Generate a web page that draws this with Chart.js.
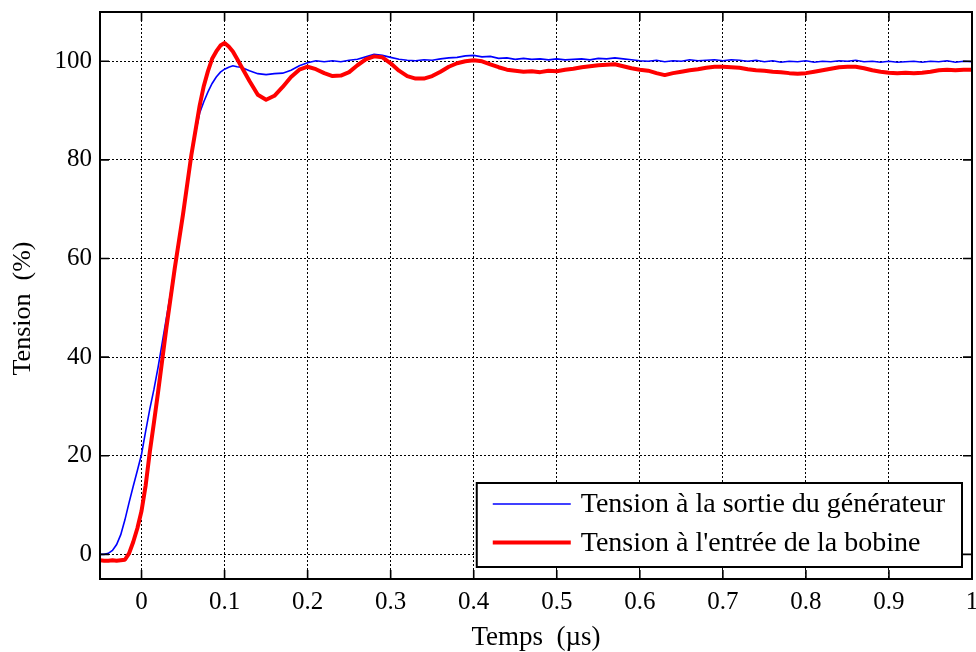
<!DOCTYPE html>
<html>
<head>
<meta charset="utf-8">
<title>Tension</title>
<script src="https://cdn.jsdelivr.net/npm/chart.js@4.4.1/dist/chart.umd.min.js"></script>
<style>
  html, body { margin: 0; padding: 0; background: #fff; }
  canvas { display: block; }
</style>
</head>
<body>
<canvas id="tensionChart" width="976" height="652"></canvas>
<script>
// Sample times (µs)
const times = [
  -0.05, -0.045, -0.04, -0.035, -0.03, -0.025, -0.02, -0.015, -0.01, -0.005,
  0, 0.005, 0.01, 0.015, 0.02, 0.025, 0.03, 0.035, 0.04, 0.045,
  0.05, 0.055, 0.06, 0.065, 0.07, 0.075, 0.08, 0.085, 0.09, 0.095,
  0.1, 0.105, 0.11, 0.115, 0.12, 0.13, 0.14, 0.15, 0.16, 0.17,
  0.18, 0.19, 0.2, 0.21, 0.22, 0.23, 0.24, 0.25, 0.26, 0.27,
  0.28, 0.29, 0.3, 0.31, 0.32, 0.33, 0.34, 0.35, 0.36, 0.37,
  0.38, 0.39, 0.4, 0.41, 0.42, 0.43, 0.44, 0.45, 0.46, 0.47,
  0.48, 0.49, 0.5, 0.51, 0.52, 0.53, 0.54, 0.55, 0.56, 0.57,
  0.58, 0.59, 0.6, 0.61, 0.62, 0.63, 0.64, 0.65, 0.66, 0.67,
  0.68, 0.69, 0.7, 0.71, 0.72, 0.73, 0.74, 0.75, 0.76, 0.77,
  0.78, 0.79, 0.8, 0.81, 0.82, 0.83, 0.84, 0.85, 0.86, 0.87,
  0.88, 0.89, 0.9, 0.91, 0.92, 0.93, 0.94, 0.95, 0.96, 0.97,
  0.98, 0.99, 1.0
];

// Generator output voltage (%)
const generatorVoltage = [
  0.0, 0.0, 0.2, 0.8, 2.0, 4.0, 7.0, 10.5, 13.8, 17.0,
  20.3, 25.0, 29.5, 33.5, 38.0, 43.0, 48.0, 53.0, 58.5, 64.0,
  69.5, 75.0, 80.5, 85.5, 89.5, 91.8, 93.8, 95.5, 96.8, 97.8,
  98.4, 98.8, 99.1, 98.9, 98.8, 98.1, 97.5, 97.3, 97.5, 97.6,
  98.2, 99.1, 99.7, 100.1, 99.9, 100.1, 99.9, 100.2, 100.4, 100.9,
  101.4, 101.2, 100.8, 100.4, 100.2, 100.1, 100.3, 100.2, 100.5, 100.7,
  100.8, 101.1, 101.2, 100.9, 101.0, 100.6, 100.7, 100.4, 100.6, 100.4,
  100.5, 100.3, 100.5, 100.3, 100.4, 100.5, 100.3, 100.6, 100.5, 100.7,
  100.5, 100.3, 100.1, 100.0, 100.2, 99.9, 100.1, 100.0, 100.3, 100.1,
  100.2, 100.3, 100.1, 100.3, 100.2, 100.0, 100.2, 99.9, 100.1, 99.8,
  100.0, 99.9, 100.1, 99.8, 100.0, 99.9, 100.1, 100.0, 100.2, 99.9,
  100.0, 99.8, 100.0, 99.8, 99.9, 100.0, 99.8, 100.0, 99.9, 100.1,
  99.8, 100.0, 99.9
];

// Coil input voltage (%)
const coilVoltage = [
  -1.2, -1.3, -1.3, -1.2, -1.3, -1.2, -1.1, 0.2, 2.5, 5.3,
  8.8, 14.0, 20.8, 26.8, 33.0, 39.5, 46.0, 52.0, 58.0, 63.5,
  69.0, 75.0, 81.0, 86.0, 91.0, 95.0, 98.0, 100.5, 102.0, 103.2,
  103.7, 103.0, 102.0, 100.5, 99.0, 96.0, 93.2, 92.2, 93.0, 94.8,
  96.8, 98.3, 98.9, 98.4, 97.6, 97.0, 97.1, 97.8, 99.2, 100.4,
  101.0, 100.8, 99.6, 98.1, 97.0, 96.5, 96.5, 97.0, 97.9, 98.9,
  99.6, 100.0, 100.2, 100.0, 99.4, 98.8, 98.3, 98.1, 97.9, 98.0,
  97.8, 98.1, 98.0, 98.3, 98.5, 98.8, 99.0, 99.2, 99.3, 99.4,
  99.0, 98.6, 98.3, 98.1, 97.6, 97.2, 97.6, 97.9, 98.2, 98.4,
  98.7, 98.9, 98.9, 98.8, 98.7, 98.4, 98.2, 98.1, 97.9, 97.8,
  97.6, 97.5, 97.6, 97.9, 98.2, 98.5, 98.8, 98.9, 98.9, 98.6,
  98.2, 97.9, 97.7, 97.6, 97.7, 97.6, 97.7, 97.9, 98.2, 98.3,
  98.2, 98.3, 98.3
];

const seriesLabels = ['Tension à la sortie du générateur', "Tension à l'entrée de la bobine"];
const seriesColors = ['#0000ff', '#ff0000'];

const xTickValues = [0, 0.1, 0.2, 0.3, 0.4, 0.5, 0.6, 0.7, 0.8, 0.9, 1];
const xTickLabels = ['0', '0.1', '0.2', '0.3', '0.4', '0.5', '0.6', '0.7', '0.8', '0.9', '1'];
const yTickValues = [0, 20, 40, 60, 80, 100];
const yTickLabels = ['0', '20', '40', '60', '80', '100'];

const FONT_FAMILY = "'Liberation Serif', 'Times New Roman', serif";
const TICK_FONT_SIZE = 25;
const TITLE_FONT_SIZE = 27;
const LEGEND_FONT_SIZE = 28;

// Solid frame around the plot plus inward tick marks on all four sides
const framePlugin = {
    id: 'frame',
    afterDatasetsDraw: function(chart) {
        const ctx = chart.ctx;
        const area = chart.chartArea;
        const xScale = chart.scales.x;
        const yScale = chart.scales.y;
        const tickLen = 9;

        ctx.save();
        ctx.strokeStyle = '#000';
        ctx.lineWidth = 1.6;
        ctx.beginPath();
        xTickValues.forEach(v => {
            const px = xScale.getPixelForValue(v);
            ctx.moveTo(px, area.bottom);
            ctx.lineTo(px, area.bottom - tickLen);
            ctx.moveTo(px, area.top);
            ctx.lineTo(px, area.top + tickLen);
        });
        yTickValues.forEach(v => {
            const py = yScale.getPixelForValue(v);
            ctx.moveTo(area.left, py);
            ctx.lineTo(area.left + tickLen, py);
            ctx.moveTo(area.right, py);
            ctx.lineTo(area.right - tickLen, py);
        });
        ctx.stroke();

        ctx.lineWidth = 2;
        ctx.strokeRect(area.left, area.top, area.right - area.left, area.bottom - area.top);
        ctx.restore();
    }
};

// Boxed legend in the lower right corner of the plot
const boxedLegendPlugin = {
    id: 'boxedLegend',
    afterDraw: function(chart) {
        const ctx = chart.ctx;
        const area = chart.chartArea;
        const datasets = chart.data.datasets;

        ctx.save();
        ctx.font = LEGEND_FONT_SIZE + 'px ' + FONT_FAMILY;
        const textWidth = Math.max.apply(null, datasets.map(ds => ctx.measureText(ds.label).width));

        const sampleLen = 78;
        const right = area.right - 10;
        const bottom = area.bottom - 12;
        const left = right - 17 - textWidth - 10 - sampleLen - 16;
        const top = bottom - 84;
        const rowGap = 38.5;

        ctx.fillStyle = '#fff';
        ctx.fillRect(left, top, right - left, bottom - top);
        ctx.strokeStyle = '#000';
        ctx.lineWidth = 2;
        ctx.strokeRect(left, top, right - left, bottom - top);

        datasets.forEach((ds, i) => {
            const y = top + 21 + i * rowGap;
            ctx.strokeStyle = ds.borderColor;
            ctx.lineWidth = ds.borderWidth;
            ctx.beginPath();
            ctx.moveTo(left + 16, y);
            ctx.lineTo(left + 16 + sampleLen, y);
            ctx.stroke();

            ctx.fillStyle = '#000';
            ctx.textAlign = 'left';
            ctx.textBaseline = 'middle';
            ctx.fillText(ds.label, left + 16 + sampleLen + 10, y + 1);
        });
        ctx.restore();
    }
};

function toPoints(values) {
    return times.map((t, i) => ({ x: t, y: values[i] }));
}

const ctx = document.getElementById('tensionChart').getContext('2d');
const tensionChart = new Chart(ctx, {
    type: 'line',
    data: {
        datasets: [{
            label: seriesLabels[0],
            data: toPoints(generatorVoltage),
            borderColor: seriesColors[0],
            borderWidth: 1.6,
            pointRadius: 0,
            tension: 0,
            order: 2
        }, {
            label: seriesLabels[1],
            data: toPoints(coilVoltage),
            borderColor: seriesColors[1],
            borderWidth: 4,
            borderJoinStyle: 'round',
            pointRadius: 0,
            tension: 0,
            order: 1
        }]
    },
    options: {
        responsive: false,
        animation: false,
        layout: {
            padding: { left: 0, top: 12, right: 4, bottom: 0 }
        },
        plugins: {
            legend: { display: false },
            tooltip: { enabled: false }
        },
        scales: {
            x: {
                type: 'linear',
                min: -0.05,
                max: 1,
                afterBuildTicks: scale => {
                    scale.ticks = xTickValues.map(v => ({ value: v }));
                },
                afterFit: scale => {
                    scale.height = 73;
                    scale.paddingLeft = 0;
                    scale.paddingRight = 0;
                },
                ticks: {
                    maxRotation: 0,
                    padding: 8,
                    color: '#000',
                    font: { family: FONT_FAMILY, size: TICK_FONT_SIZE, lineHeight: 1.2 },
                    callback: (value, index) => xTickLabels[index]
                },
                grid: {
                    color: '#000',
                    lineWidth: 1,
                    drawTicks: false
                },
                border: { display: false, dash: [2, 2] },
                title: {
                    display: true,
                    text: 'Temps  (µs)',
                    color: '#000',
                    padding: 0,
                    font: { family: FONT_FAMILY, size: TITLE_FONT_SIZE, lineHeight: 1.05 }
                }
            },
            y: {
                type: 'linear',
                min: -5,
                max: 110,
                afterBuildTicks: scale => {
                    scale.ticks = yTickValues.map(v => ({ value: v }));
                },
                afterFit: scale => {
                    scale.width = 100;
                    scale.paddingTop = 0;
                    scale.paddingBottom = 0;
                },
                ticks: {
                    padding: 8,
                    color: '#000',
                    font: { family: FONT_FAMILY, size: TICK_FONT_SIZE },
                    callback: (value, index) => yTickLabels[index]
                },
                grid: {
                    color: '#000',
                    lineWidth: 1,
                    drawTicks: false
                },
                border: { display: false, dash: [2, 2] },
                title: {
                    display: true,
                    // trailing spaces push the rotated title a little lower
                    text: 'Tension  (%)    ',
                    color: '#000',
                    padding: { top: 8, bottom: 0 },
                    font: { family: FONT_FAMILY, size: 26, lineHeight: 1.2 }
                }
            }
        }
    },
    plugins: [framePlugin, boxedLegendPlugin]
});
</script>
</body>
</html>
